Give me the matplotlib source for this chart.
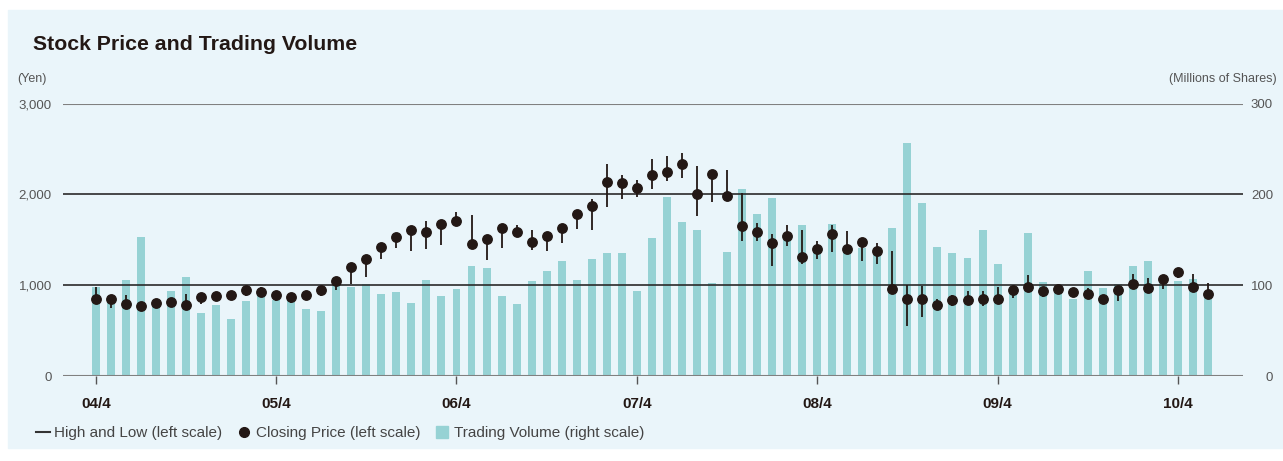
import numpy as np
import matplotlib.pyplot as plt
from matplotlib.lines import Line2D
from matplotlib.patches import Rectangle

plt.rcParams['font.family'] = ['Liberation Sans', 'DejaVu Sans']

# year tick labels (every 12 months starting 04/4)
year_labels = ["04/4", "05/4", "06/4", "07/4", "08/4", "09/4", "10/4"]

# monthly trading volume (millions of shares), 04/4 .. 10/6
volume = [98.5, 88, 106, 153, 78, 94, 109, 69.5, 78, 63,
          83, 93, 84, 85, 74, 72, 100, 98, 101, 90,
          93, 80.5, 106, 88, 96, 121, 119, 88, 79, 105,
          116, 127, 106, 129, 136, 136, 94, 152, 197, 170,
          161, 103, 137, 206, 179, 196, 150, 166, 137, 168,
          139, 141, 136, 163, 257, 191, 142, 136, 130, 161,
          123.5, 94, 158, 104, 97, 85, 116, 97, 101, 121,
          127, 103, 105, 107, 93]

# monthly closing price (yen)
close = [846, 846, 790, 775, 801, 819, 786, 868, 882, 890,
         951, 922, 890, 871, 890, 951, 1047, 1202, 1293, 1426,
         1529, 1606, 1591, 1679, 1705, 1459, 1510, 1628, 1591, 1477,
         1543, 1628, 1783, 1878, 2136, 2124, 2069, 2212, 2253, 2334,
         2007, 2224, 1985, 1654, 1591, 1470, 1543, 1315, 1400, 1562,
         1397, 1474, 1378, 959, 846, 846, 783, 834, 834, 846,
         853, 951, 985, 937, 955, 926, 904, 849, 948, 1018,
         967, 1073, 1143, 985, 901]

# monthly high / low (yen)
high = [981, 870, 893, 790, 815, 830, 900, 875, 895, 900,
        960, 977, 900, 880, 900, 960, 1060, 1215, 1305, 1435,
        1540, 1615, 1709, 1690, 1805, 1775, 1520, 1640, 1665, 1610,
        1590, 1640, 1795, 1948, 2337, 2212, 2157, 2392, 2426, 2455,
        2319, 2235, 2268, 2014, 1683, 1562, 1661, 1610, 1488, 1665,
        1602, 1485, 1470, 1382, 1000, 987, 850, 893, 934, 941,
        978, 985, 1110, 978, 1007, 935, 966, 860, 985, 1121,
        1077, 1085, 1150, 1125, 1022]
low = [830, 750, 770, 765, 780, 810, 780, 790, 870, 880,
       880, 910, 830, 800, 880, 880, 945, 1014, 1088, 1286,
       1408, 1378, 1397, 1444, 1650, 1450, 1275, 1408, 1580, 1390,
       1380, 1463, 1621, 1606, 1860, 1951, 1973, 2062, 2153, 2186,
       1764, 1918, 1975, 1488, 1492, 1216, 1433, 1231, 1293, 1364,
       1390, 1271, 1231, 950, 548, 647, 760, 772, 786, 770,
       800, 863, 951, 867, 945, 915, 853, 840, 830, 955,
       955, 955, 1077, 975, 890]

bar_color = '#96d2d4'
dark = '#231815'
bg = '#eaf5fa'

x = np.arange(len(volume))

fig = plt.figure(figsize=(12.83, 4.61), dpi=100)
fig.patch.set_facecolor('white')
fig.patches.append(Rectangle((8 / 1283, 13 / 461), 1 - 8 / 1283, 438 / 461,
                             transform=fig.transFigure, color=bg, zorder=-10))

ax = fig.add_axes([63 / 1283, 85 / 461, 1180 / 1283, 272.3 / 461])
ax2 = ax.twinx()
ax.set_zorder(ax2.get_zorder() + 1)
ax.patch.set_visible(False)
ax2.patch.set_visible(False)

# volume bars on the right scale
ax2.bar(x, volume, width=0.53, color=bar_color, zorder=1)
ax2.set_ylim(0, 300)
ax2.set_yticks([0, 100, 200, 300])

# price on the left scale
ax.set_ylim(0, 3000)
ax.set_yticks([0, 1000, 2000, 3000])
ax.set_yticklabels(["0", "1,000", "2,000", "3,000"])
for v in [1000, 2000]:
    ax.axhline(v, color='#2a2a2a', lw=1.2, zorder=1)
ax.axhline(3000, color='#808080', lw=1.5, zorder=1)
ax.axhline(0, color='#808080', lw=1.5, zorder=1)

ax.vlines(x, low, high, color=dark, lw=1.3, zorder=3)
ax.plot(x, close, 'o', color=dark, ms=6.8, zorder=4)

ax.set_xlim(-2.18, 76.33)
ax.set_xticks(x[::12])
ax.set_xticklabels(year_labels, fontsize=11, fontweight='bold', color=dark)

for a in (ax, ax2):
    for s in a.spines.values():
        s.set_visible(False)
ax.tick_params(axis='y', length=0, pad=8, labelsize=9.5, labelcolor='#555555')
ax2.tick_params(axis='y', length=0, pad=21.6, labelsize=9.5, labelcolor='#555555')
for lbl in ax2.get_yticklabels():
    lbl.set_horizontalalignment('right')
ax.tick_params(axis='x', length=6, width=1, color='#555555', pad=9)

fig.text(33 / 1283, 1 - 45 / 461, "Stock Price and Trading Volume", fontsize=15.3,
         fontweight='bold', color=dark, va='center')
fig.text(17 / 1283, 1 - 79 / 461, "(Yen)", fontsize=9, color='#555555', va='center')
fig.text(1277 / 1283, 1 - 79 / 461, "(Millions of Shares)", fontsize=9,
         color='#555555', va='center', ha='right')

handles = [
    Line2D([], [], color='#333333', lw=1.5),
    Line2D([], [], marker='o', ls='', color=dark, ms=7),
    Line2D([], [], marker='s', ls='', color=bar_color, ms=9),
]
labels = ["High and Low (left scale)", "Closing Price (left scale)",
          "Trading Volume (right scale)"]
fig.legend(handles, labels, loc='center left', bbox_to_anchor=(22 / 1283, 1 - 433 / 461),
           ncol=3, frameon=False, handlelength=0.9, handletextpad=0.3,
           columnspacing=1.0, fontsize=11, labelcolor='#444444')

fig.savefig('out.png', dpi=100, facecolor=fig.get_facecolor())
